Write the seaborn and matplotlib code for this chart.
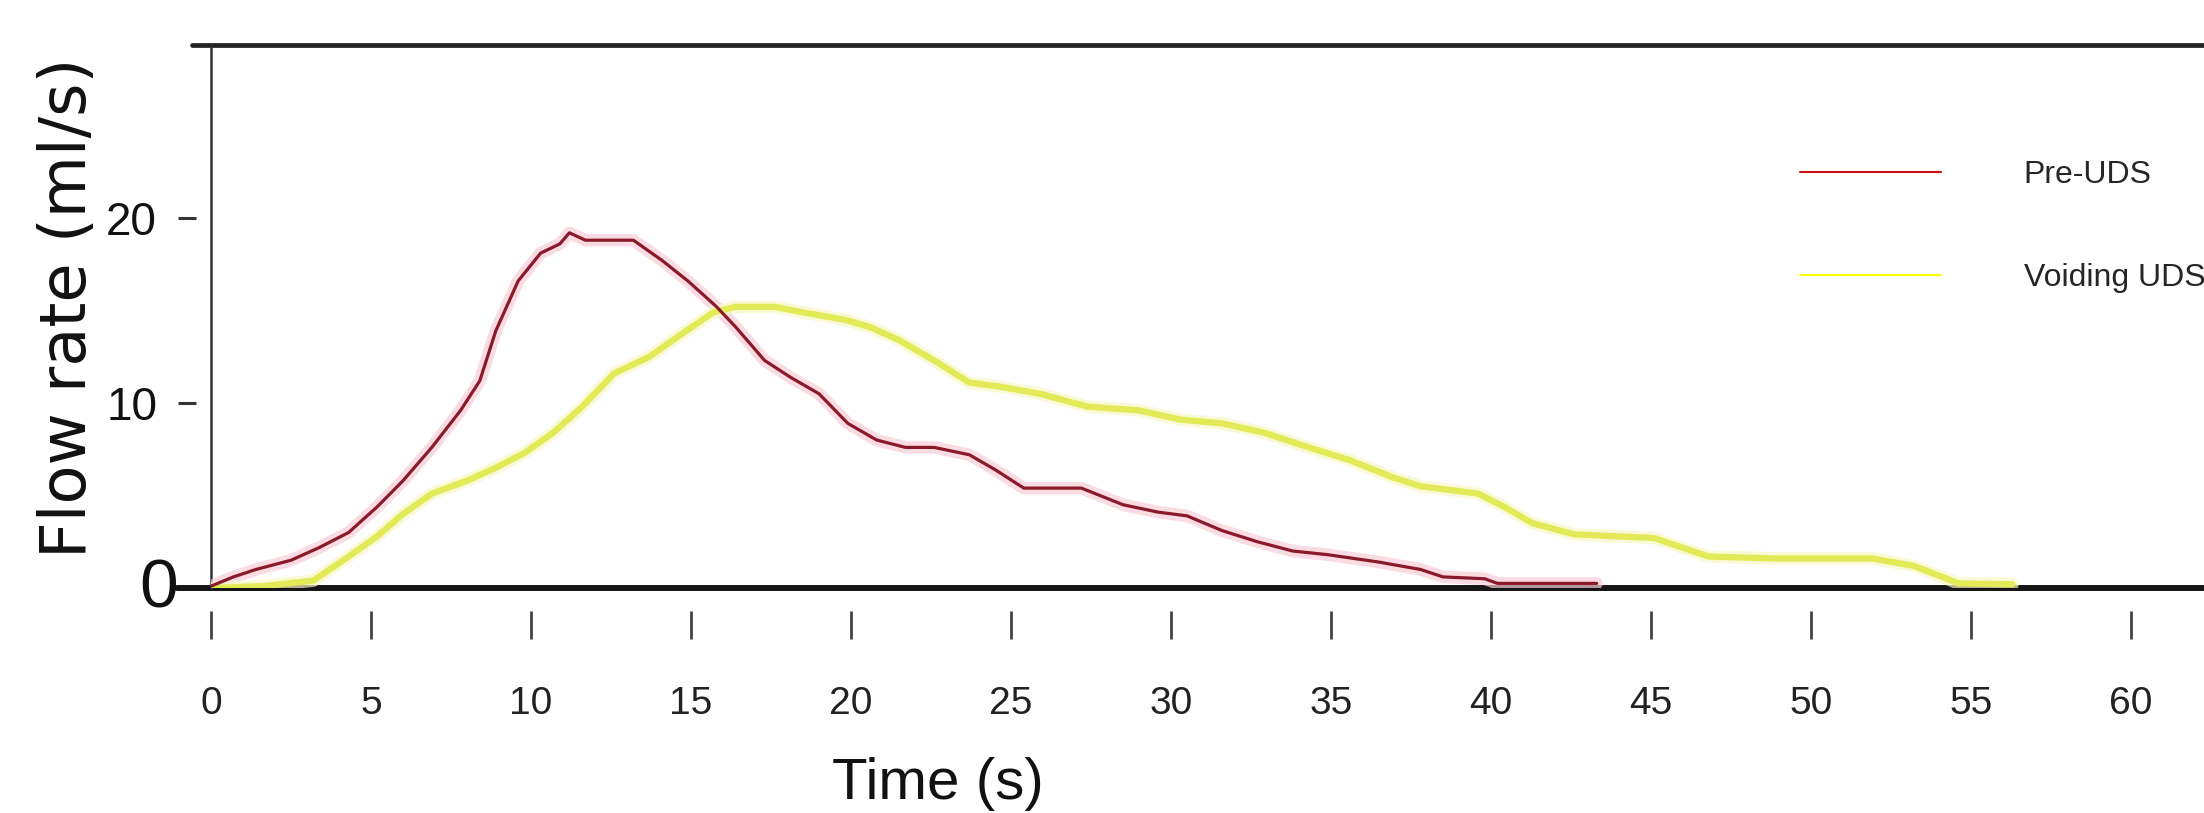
import numpy as np
import pandas as pd
import matplotlib
matplotlib.use("Agg")
import matplotlib.pyplot as plt
from matplotlib import font_manager
from matplotlib.lines import Line2D
import matplotlib.transforms as mtransforms
import seaborn as sns

# Set style
sns.set_style("white")

pre_time = [0, 0.7, 1.4, 2.5, 3.4, 4.3, 5.2, 6.0, 6.9, 7.8, 8.4, 8.9, 9.6, 10.3,
            10.9, 11.2, 11.7, 13.2, 14.1, 14.9, 15.8, 16.4, 17.3, 18.1, 19.0,
            19.9, 20.8, 21.7, 22.6, 23.7, 24.5, 25.4, 27.2, 28.5, 29.6, 30.5,
            31.6, 32.7, 33.8, 34.9, 36.5, 37.8, 38.5, 39.8, 40.2, 43.3]
pre_flow = [0.1, 0.6, 1.0, 1.5, 2.2, 3.0, 4.4, 5.8, 7.6, 9.6, 11.2, 13.9, 16.6,
            18.1, 18.6, 19.2, 18.8, 18.8, 17.7, 16.6, 15.2, 14.1, 12.3, 11.4,
            10.5, 8.9, 8.0, 7.6, 7.6, 7.2, 6.4, 5.4, 5.4, 4.5, 4.1, 3.9, 3.1,
            2.5, 2.0, 1.8, 1.4, 1.0, 0.6, 0.5, 0.25, 0.25]

void_time = [0, 1.6, 3.2, 4.3, 5.2, 6.0, 6.9, 8.0, 8.9, 9.8, 10.7, 11.6, 12.6,
             13.7, 14.6, 15.7, 16.4, 17.6, 18.5, 19.8, 20.6, 21.5, 22.6, 23.7,
             24.6, 25.9, 27.4, 29.0, 30.3, 31.6, 32.9, 34.3, 35.6, 36.9, 37.8,
             39.6, 40.4, 41.3, 42.6, 45.1, 46.8, 48.8, 51.9, 53.2, 54.1, 54.6,
             56.3]
void_flow = [0, 0.1, 0.4, 1.7, 2.8, 4.0, 5.1, 5.8, 6.5, 7.3, 8.4, 9.8, 11.6,
             12.5, 13.6, 14.9, 15.2, 15.2, 14.9, 14.5, 14.1, 13.4, 12.3, 11.1,
             10.9, 10.5, 9.8, 9.6, 9.1, 8.9, 8.4, 7.6, 6.9, 6.0, 5.5, 5.1, 4.4,
             3.5, 2.9, 2.7, 1.7, 1.6, 1.6, 1.2, 0.6, 0.25, 0.2]

series_names = ["Pre-UDS", "Voiding UDS"]
x_ticks = list(range(0, 65, 5))
y_ticks = [10, 20]

df = pd.concat([
    pd.DataFrame({"time": pre_time, "flow": pre_flow, "series": series_names[0]}),
    pd.DataFrame({"time": void_time, "flow": void_flow, "series": series_names[1]}),
])

# Fonts: the source image is vertically stretched, so a narrow face fits best
names = {f.name for f in font_manager.fontManager.ttflist}
if "Liberation Sans Narrow" in names:
    narrow, k = "Liberation Sans Narrow", 1.15
else:
    narrow, k = "Liberation Sans", 1.0
plt.rcParams["font.family"] = ["Liberation Sans", "DejaVu Sans"]

W, H = 2204, 813
fig = plt.figure(figsize=(W / 100, H / 100), dpi=100, facecolor="white")
# axes: x=0 at px 211, y=0 at px 588, top line at px 45
ax = fig.add_axes([211 / W, 1 - 588 / H, 1 - 211 / W, (588 - 45) / H])
ax.set_facecolor("white")

y_top = (588 - 45) / 18.5
x_right = (W - 211) / 32.0
ax.set_xlim(0, x_right)
ax.set_ylim(0, y_top)

# soft halo + core line for each series
halo = {"Pre-UDS": "#f8cdd6", "Voiding UDS": "#f7f9c4"}
core = {"Pre-UDS": "#8a1a2a", "Voiding UDS": "#e3ea58"}
sns.lineplot(data=df, x="time", y="flow", hue="series", palette=halo,
             estimator=None, sort=False, lw=9, alpha=0.7, legend=False, ax=ax,
             zorder=3)
sub = df[df.series == "Voiding UDS"]
sns.lineplot(data=sub, x="time", y="flow", color=core["Voiding UDS"],
             estimator=None, sort=False, lw=4.5, legend=False, ax=ax, zorder=4)
sub = df[df.series == "Pre-UDS"]
sns.lineplot(data=sub, x="time", y="flow", color=core["Pre-UDS"],
             estimator=None, sort=False, lw=2.3, legend=False, ax=ax, zorder=5)

# frame lines
ax.axhline(0, xmin=-34 / 1993, xmax=1, color="#151515", lw=4.3, clip_on=False, zorder=2)
ax.axhline(y_top, xmin=-19 / 1993, xmax=1, color="#222222", lw=3.4, clip_on=False, zorder=2)
ax.axvline(0, ymin=0, ymax=1, color="#333333", lw=1.8, clip_on=False, zorder=2)
for s in ax.spines.values():
    s.set_visible(False)
ax.spines["left"].set_position(("outward", 10.8))
ax.spines["bottom"].set_position(("outward", 16.6))

ax.set_xticks(x_ticks)
ax.set_xticklabels([str(t) for t in x_ticks], family=narrow, fontsize=28 * k, color="#222222")
ax.set_yticks(y_ticks)
ax.set_yticklabels([str(v) for v in y_ticks], family=narrow, fontsize=33 * k, color="#111111")
ax.tick_params(axis="x", bottom=True, direction="out", length=20, width=2,
               color="#444444", pad=34)
ax.tick_params(axis="y", left=True, direction="out", length=13, width=2.2,
               color="#333333", pad=15)

# the larger zero label at the origin
trans = mtransforms.blended_transform_factory(ax.transAxes, ax.transData)
ax.text(-52 / 1993, -0.1, "0", transform=trans, ha="center", va="center",
        family=narrow, fontsize=50 * k, color="#111111")

ax.set_ylabel("Flow rate (ml/s)", family="DejaVu Sans", fontsize=46,
              color="#111111", va="center")
ax.yaxis.set_label_coords(-143 / 1993, (588 - 308) / 543)
ax.set_xlabel("Time (s)", family=narrow, fontsize=42 * k, color="#111111",
              va="baseline")
ax.xaxis.set_label_coords((938 - 211) / 1993, (588 - 799) / 543)

# legend overlaid at the upper right
handles = [Line2D([], [], color="#cc1010", lw=1.5),
           Line2D([], [], color="#ffff00", lw=1.5)]
fig.legend(handles, series_names, loc="upper left",
           bbox_to_anchor=(1800 / W, 1 - 160 / H), frameon=False,
           fontsize=23, handlelength=4.4, handletextpad=2.6,
           labelspacing=2.3, borderpad=0, borderaxespad=0)

fig.savefig("out.png", dpi=100, facecolor="white")
